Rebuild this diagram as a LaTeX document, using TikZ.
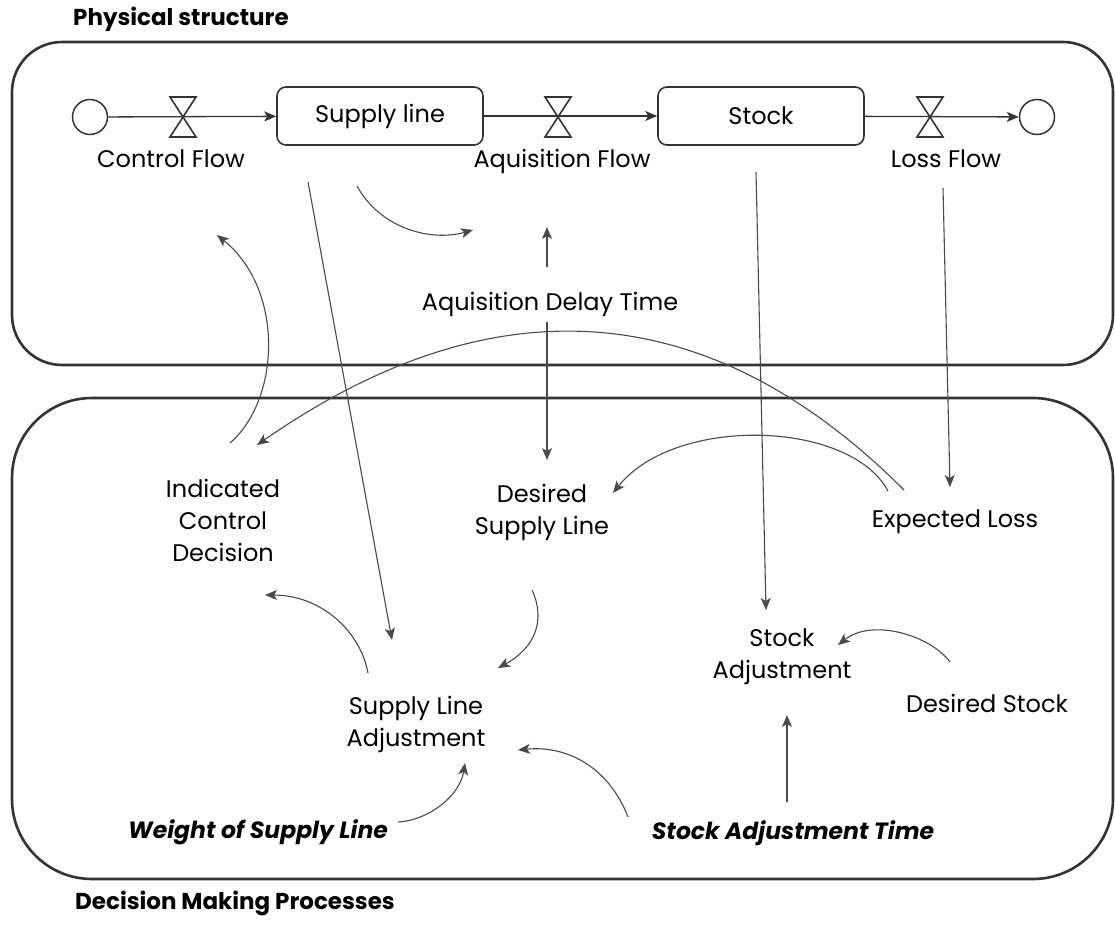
\documentclass[tikz,border=0pt]{standalone}
\usepackage{fontspec}
\setmainfont{Poppins}
\usetikzlibrary{arrows.meta}
\definecolor{ink}{HTML}{333333}
\definecolor{wire}{HTML}{4A4A4A}

\begin{document}
\begin{tikzpicture}[x=1pt,y=-1pt,
  frame/.style={draw=ink, line width=2.6pt, rounded corners=#1},
  lbl/.style={font=\fontsize{24}{32}\selectfont, inner sep=0pt, align=center},
  heading/.style={font=\fontsize{23}{26}\selectfont\bfseries, inner sep=0pt, anchor=west},
  param/.style={font=\fontsize{23.5}{26}\selectfont\bfseries\itshape, inner sep=0pt},
  level/.style={draw=ink, line width=1.6pt, rounded corners=9pt, minimum width=206pt,
    minimum height=58pt, inner sep=0pt, font=\fontsize{24}{26}\selectfont},
  cloud/.style={circle, draw=ink, line width=1.5pt, minimum size=35pt, inner sep=0pt},
  valve/.style={draw=ink, line width=1.6pt, line join=miter},
  tip/.style={-{Stealth[length=12pt,width=10pt,inset=3pt]}},
  pipe/.style={draw=ink, line width=1.3pt, tip},
  link/.style={draw=wire, line width=1.1pt, tip},
]
\useasboundingbox (0,0) rectangle (1115,925);

% sector frames
\draw[frame=50pt] (12,42) rectangle (1113,365);
\draw[frame=80pt] (12,398) rectangle (1113,879);
\node[heading] (physical) at (73,19) {Physical structure};
\node[heading] (decision) at (75,903) {Decision Making Processes};

% stock-and-flow chain
\node[cloud] (src) at (90,117) {};
\node[level] (supply) at (380,116) {Supply line};
\node[level] (stock) at (761,116) {Stock};
\node[cloud] (sink) at (1037,117) {};
\coordinate (v1) at (183,117);
\coordinate (v2) at (558,117);
\coordinate (v3) at (930,117);
\draw[pipe] (src) -- (supply);
\draw[pipe] (supply) -- (stock);
\draw[pipe] (stock) -- (sink);
\foreach \v in {v1,v2,v3}
  \draw[valve] (\v) +(-13,-20) -- +(13,-20) -- +(-13,20) -- +(13,20) -- cycle;

% variables
\node[lbl, anchor=base] (ctrlflow) at (171,168) {Control Flow};
\node[lbl, anchor=base] (acqflow) at (562,168) {Aquisition Flow};
\node[lbl, anchor=base] (lossflow) at (946,168) {Loss Flow};
\node[lbl, anchor=base] (delay) at (550,310) {Aquisition Delay Time};
\node[lbl] (icd) at (223,520) {Indicated\\Control\\Decision};
\node[lbl] (dsl) at (542,512) {Desired\\Supply Line};
\node[lbl, anchor=base] (exloss) at (955,527) {Expected Loss};
\node[lbl] (stadj) at (782,657) {Stock\\Adjustment};
\node[lbl, anchor=base] (dstock) at (987,712) {Desired Stock};
\node[lbl] (sla) at (416,724) {Supply Line\\Adjustment};
\node[param] (wsl) at (258,832) {Weight of Supply Line};
\node[param] (sat) at (793,833) {Stock Adjustment Time};

% connector end points
\coordinate (supplyA) at (308,182);
\coordinate (supplyB) at (357,186);
\coordinate (acqIn) at (473,230);
\coordinate (delayUp) at (547,267);
\coordinate (acqUp) at (547,227);
\coordinate (delayDn) at (547,322);
\coordinate (dslIn) at (547,460);
\coordinate (icdOut) at (230,443);
\coordinate (ctrlIn) at (217,235);
\coordinate (exlA) at (904,490);
\coordinate (exlB) at (888,491);
\coordinate (icdIn) at (257,445);
\coordinate (dslSide) at (613,493);
\coordinate (stockOut) at (756,172);
\coordinate (stadjIn) at (766,610);
\coordinate (lossOut) at (943,188);
\coordinate (exlIn) at (950,487);
\coordinate (dstockOut) at (950,662);
\coordinate (stadjSide) at (838,645);
\coordinate (dslOut) at (532,590);
\coordinate (slaTop) at (498,668);
\coordinate (slaIn) at (392,640);
\coordinate (slaOut) at (368,673);
\coordinate (icdLow) at (265,595);
\coordinate (wslOut) at (398,822);
\coordinate (slaLow) at (465,763);
\coordinate (satOut) at (628,817);
\coordinate (slaSide) at (518,750);
\coordinate (satUp) at (787,802);
\coordinate (stadjLow) at (787,715);

% information links
\draw[link] (supplyB) .. controls (380,228) and (430,242) .. (acqIn);
\draw[link] (delayUp) -- (acqUp);
\draw[link] (delayDn) -- (dslIn);
\draw[link] (icdOut) .. controls (280,400) and (285,290) .. (ctrlIn);
\draw[link] (exlA) .. controls (704,290) and (487,285) .. (icdIn);
\draw[link] (exlB) .. controls (850,420) and (675,415) .. (dslSide);
\draw[link] (supplyA) -- (slaIn);
\draw[link] (stockOut) -- (stadjIn);
\draw[link] (lossOut) -- (exlIn);
\draw[link] (dstockOut) .. controls (930,635) and (872,618) .. (stadjSide);
\draw[link] (dslOut) .. controls (546,620) and (535,648) .. (slaTop);
\draw[link] (slaOut) .. controls (360,630) and (320,595) .. (icdLow);
\draw[link] (wslOut) .. controls (430,820) and (460,795) .. (slaLow);
\draw[link] (satOut) .. controls (610,770) and (570,745) .. (slaSide);
\draw[link] (satUp) -- (stadjLow);
\end{tikzpicture}
\end{document}
